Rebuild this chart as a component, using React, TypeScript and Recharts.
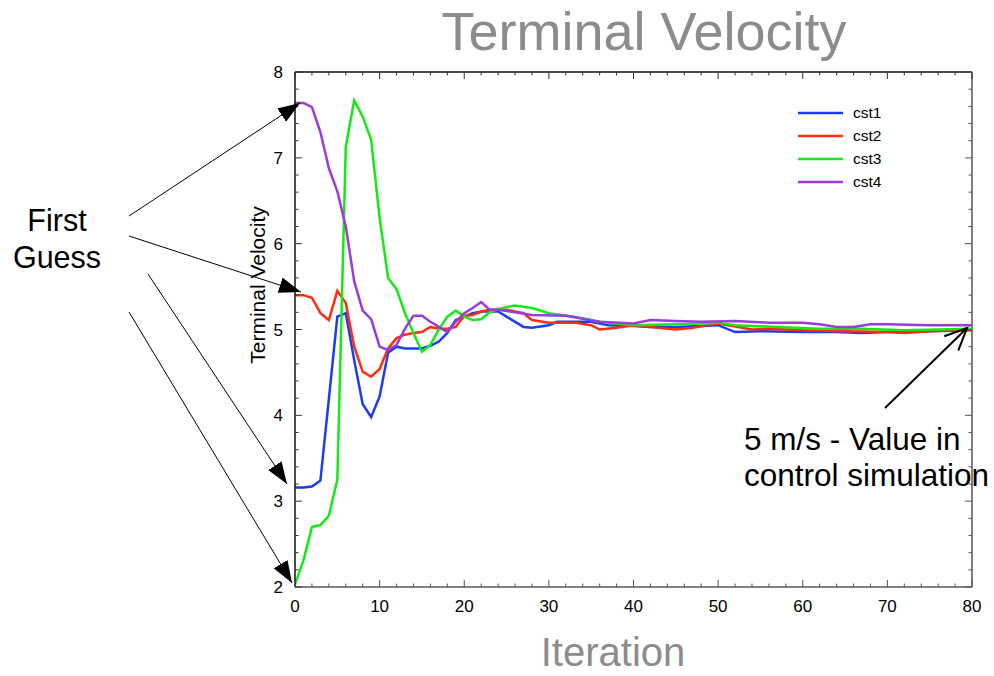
import { LineChart, Line, XAxis, YAxis, ReferenceLine, Legend } from 'recharts';

// values: [iteration, terminal velocity]
const cst1: [number, number][] = [
  [0, 3.16], [1, 3.16], [2, 3.17], [3, 3.24], [4, 4.19], [5, 5.15], [6, 5.19], [7, 4.64], [8, 4.13],
  [9, 3.98], [10, 4.22], [11, 4.73], [12, 4.8], [13, 4.78], [14, 4.78], [15, 4.78], [16, 4.81],
  [17, 4.86], [18, 4.96], [19, 5.11], [20, 5.15], [21, 5.19], [22, 5.21], [24, 5.21], [25, 5.15],
  [27, 5.03], [28, 5.02], [30, 5.05], [31, 5.09], [35, 5.09], [37, 5.05], [40, 5.04], [42, 5.03],
  [45, 5.03], [48, 5.04], [50, 5.05], [52, 4.97], [55, 4.98], [60, 4.97], [64, 4.97], [67, 4.96],
  [70, 4.97], [75, 4.98], [80, 4.99],
];
const cst2: [number, number][] = [
  [0, 5.4], [1, 5.4], [2, 5.37], [3, 5.19], [4, 5.11], [5, 5.45], [6, 5.31], [7, 4.8], [8, 4.51],
  [9, 4.45], [10, 4.54], [11, 4.78], [12, 4.9], [13, 4.94], [14, 4.96], [15, 4.97], [16, 5.03],
  [17, 5.01], [18, 5.01], [19, 5.03], [20, 5.16], [21, 5.17], [22, 5.21], [23, 5.23], [25, 5.23],
  [27, 5.19], [28, 5.11], [30, 5.08], [33, 5.08], [35, 5.05], [36, 5.0], [38, 5.02], [40, 5.05],
  [42, 5.03], [45, 5.0], [47, 5.02], [50, 5.07], [54, 5.0], [56, 5.01], [60, 4.99], [65, 4.98],
  [70, 4.97], [72, 4.96], [75, 4.98], [80, 5.0],
];
const cst3: [number, number][] = [
  [0, 2.03], [1, 2.31], [2, 2.7], [3, 2.72], [4, 2.83], [5, 3.25], [6, 7.13], [7, 7.67], [8, 7.48],
  [9, 7.21], [10, 6.3], [11, 5.6], [12, 5.47], [13, 5.19], [14, 4.96], [15, 4.74], [16, 4.82],
  [17, 5.0], [18, 5.15], [19, 5.22], [20, 5.15], [21, 5.11], [22, 5.12], [23, 5.2], [24, 5.24],
  [26, 5.28], [28, 5.25], [30, 5.19], [33, 5.15], [36, 5.09], [40, 5.05], [45, 5.06], [48, 5.07],
  [50, 5.08], [52, 5.05], [57, 5.03], [62, 5.01], [67, 5.01], [72, 4.99], [80, 5.01],
];
const cst4: [number, number][] = [
  [0, 7.64], [1, 7.64], [2, 7.59], [3, 7.3], [4, 6.88], [5, 6.61], [6, 6.2], [7, 5.56], [8, 5.22],
  [9, 5.12], [10, 4.8], [11, 4.76], [12, 4.82], [13, 5.01], [14, 5.16], [15, 5.16], [16, 5.09],
  [17, 5.03], [18, 4.97], [19, 5.09], [20, 5.19], [21, 5.25], [22, 5.32], [23, 5.23], [24, 5.23],
  [26, 5.2], [28, 5.17], [32, 5.16], [36, 5.09], [40, 5.07], [42, 5.11], [45, 5.1], [48, 5.09],
  [52, 5.1], [56, 5.08], [60, 5.08], [62, 5.06], [64, 5.03], [66, 5.03], [68, 5.06], [70, 5.06],
  [75, 5.05], [80, 5.05],
];

const seriesNames = ['cst1', 'cst2', 'cst3', 'cst4'];
const seriesColors = ['#1c3cf2', '#ff2d0d', '#14ea14', '#9b3bd8'];
const seriesData = [cst1, cst2, cst3, cst4];

const xMajor = [0, 10, 20, 30, 40, 50, 60, 70, 80];
const yMajor = [2, 3, 4, 5, 6, 7, 8];

// minor ticks: every 2 iterations, every 0.2 velocity
const xTicks: number[] = [];
for (let i = 0; i <= 80; i += 2) xTicks.push(i);
const yTicks: number[] = [];
for (let i = 0; i <= 30; i++) yTicks.push(Math.round((2 + i * 0.2) * 10) / 10);

const W = 994;
const H = 676;
const PLOT = { left: 295, top: 72, right: 972, bottom: 587 };
const FONT = '"Liberation Sans", Arial, sans-serif';

function YTick(props: any) {
  const y = props.y;
  const v = props.payload.value;
  const major = yMajor.includes(v);
  const len = major ? 7 : 3.5;
  return (
    <g>
      <line x1={PLOT.left} x2={PLOT.left + len} y1={y} y2={y} stroke="#333" />
      <line x1={PLOT.right - len} x2={PLOT.right} y1={y} y2={y} stroke="#555" />
      {major && (
        <text x={PLOT.left - 12} y={y} dy="0.36em" textAnchor="end" fontSize={17} fill="#000" fontFamily={FONT}>
          {v}
        </text>
      )}
    </g>
  );
}

function XTick(props: any) {
  const x = props.x;
  const v = props.payload.value;
  const major = xMajor.includes(v);
  const len = major ? 7 : 3.5;
  return (
    <g>
      <line x1={x} x2={x} y1={PLOT.bottom} y2={PLOT.bottom - len} stroke="#555" />
      <line x1={x} x2={x} y1={PLOT.top} y2={PLOT.top + len} stroke="#333" />
      {major && (
        <text x={x} y={PLOT.bottom + 25} textAnchor="middle" fontSize={17} fill="#000" fontFamily={FONT}>
          {v}
        </text>
      )}
    </g>
  );
}

function LegendBox(props: any) {
  const items = props.payload || [];
  return (
    <div style={{ fontFamily: FONT, fontSize: 15.5 }}>
      {items.map((it: any) => (
        <div key={it.value} style={{ display: 'flex', alignItems: 'center', height: 23 }}>
          <svg width={45} height={4} style={{ marginRight: 10 }}>
            <line x1={0} x2={45} y1={2} y2={2} stroke={it.color} strokeWidth={2.5} />
          </svg>
          <span>{it.value}</span>
        </div>
      ))}
    </div>
  );
}

export default function App() {
  return (
    <div style={{ position: 'absolute', left: 0, top: 0, width: W, height: H, background: '#fff' }}>
      <LineChart
        width={W}
        height={H}
        margin={{ top: PLOT.top, right: W - PLOT.right, bottom: 0, left: 0 }}
      >
        <XAxis
          type="number"
          dataKey="it"
          domain={[0, 80]}
          ticks={xTicks}
          interval={0}
          tick={<XTick />}
          tickLine={false}
          tickSize={0}
          tickMargin={0}
          height={H - PLOT.bottom}
          axisLine={{ stroke: '#808080', strokeWidth: 2 }}
          allowDataOverflow
        />
        <YAxis
          type="number"
          domain={[2, 8]}
          ticks={yTicks}
          interval={0}
          tick={<YTick />}
          tickLine={false}
          tickSize={0}
          tickMargin={0}
          width={PLOT.left}
          axisLine={{ stroke: '#111', strokeWidth: 1.5 }}
          allowDataOverflow
        />
        <ReferenceLine y={8} stroke="#111" strokeWidth={1.5} />
        <ReferenceLine x={80} stroke="#808080" strokeWidth={2} />
        {seriesData.map((d, i) => (
          <Line
            key={seriesNames[i]}
            data={d.map(([it, v]) => ({ it, v }))}
            dataKey="v"
            name={seriesNames[i]}
            stroke={seriesColors[i]}
            strokeWidth={2.5}
            dot={false}
            type="linear"
            isAnimationActive={false}
          />
        ))}
        <Legend
          layout="vertical"
          verticalAlign="middle"
          align="center"
          wrapperStyle={{ top: 101, left: 798, width: 120 }}
          content={<LegendBox />}
        />
      </LineChart>

      <svg
        width={W}
        height={H}
        style={{ position: 'absolute', left: 0, top: 0, pointerEvents: 'none' }}
        fontFamily={FONT}
      >
        <defs>
          <marker id="solidHead" viewBox="0 0 22 16" refX={22} refY={8} markerWidth={22} markerHeight={16}
            markerUnits="userSpaceOnUse" orient="auto">
            <path d="M0,0 L22,8 L0,16 z" fill="#000" />
          </marker>
          <marker id="openHead" viewBox="-2 -2 26 24" refX={22} refY={10} markerWidth={26} markerHeight={24}
            markerUnits="userSpaceOnUse" orient="auto" overflow="visible">
            <path d="M0,0 L22,10 L0,20" fill="none" stroke="#000" strokeWidth={2} />
          </marker>
        </defs>

        <text x={644} y={50} textAnchor="middle" fontSize={54} fill="#8c8c8c">Terminal Velocity</text>
        <text x={613} y={666} textAnchor="middle" fontSize={40} fill="#8c8c8c">Iteration</text>
        <text x={265} y={285} textAnchor="middle" fontSize={21} fill="#000" transform="rotate(-90 265 285)">
          Terminal Velocity
        </text>

        <text x={57} y={231} textAnchor="middle" fontSize={30.5} fill="#000">First</text>
        <text x={57} y={268} textAnchor="middle" fontSize={30.5} fill="#000">Guess</text>
        <text x={744} y={450} fontSize={31.5} fill="#000">5 m/s - Value in</text>
        <text x={744} y={486} fontSize={31.5} fill="#000">control simulation</text>

        <line x1={129} y1={216} x2={300} y2={103} stroke="#000" strokeWidth={1} markerEnd="url(#solidHead)" />
        <line x1={129} y1={236} x2={301} y2={292} stroke="#000" strokeWidth={1} markerEnd="url(#solidHead)" />
        <line x1={148} y1={274} x2={287} y2={484} stroke="#000" strokeWidth={1} markerEnd="url(#solidHead)" />
        <line x1={129} y1={312} x2={292} y2={583} stroke="#000" strokeWidth={1} markerEnd="url(#solidHead)" />
        <line x1={885} y1={408} x2={967} y2={328} stroke="#000" strokeWidth={2} markerEnd="url(#openHead)" />
      </svg>
    </div>
  );
}
